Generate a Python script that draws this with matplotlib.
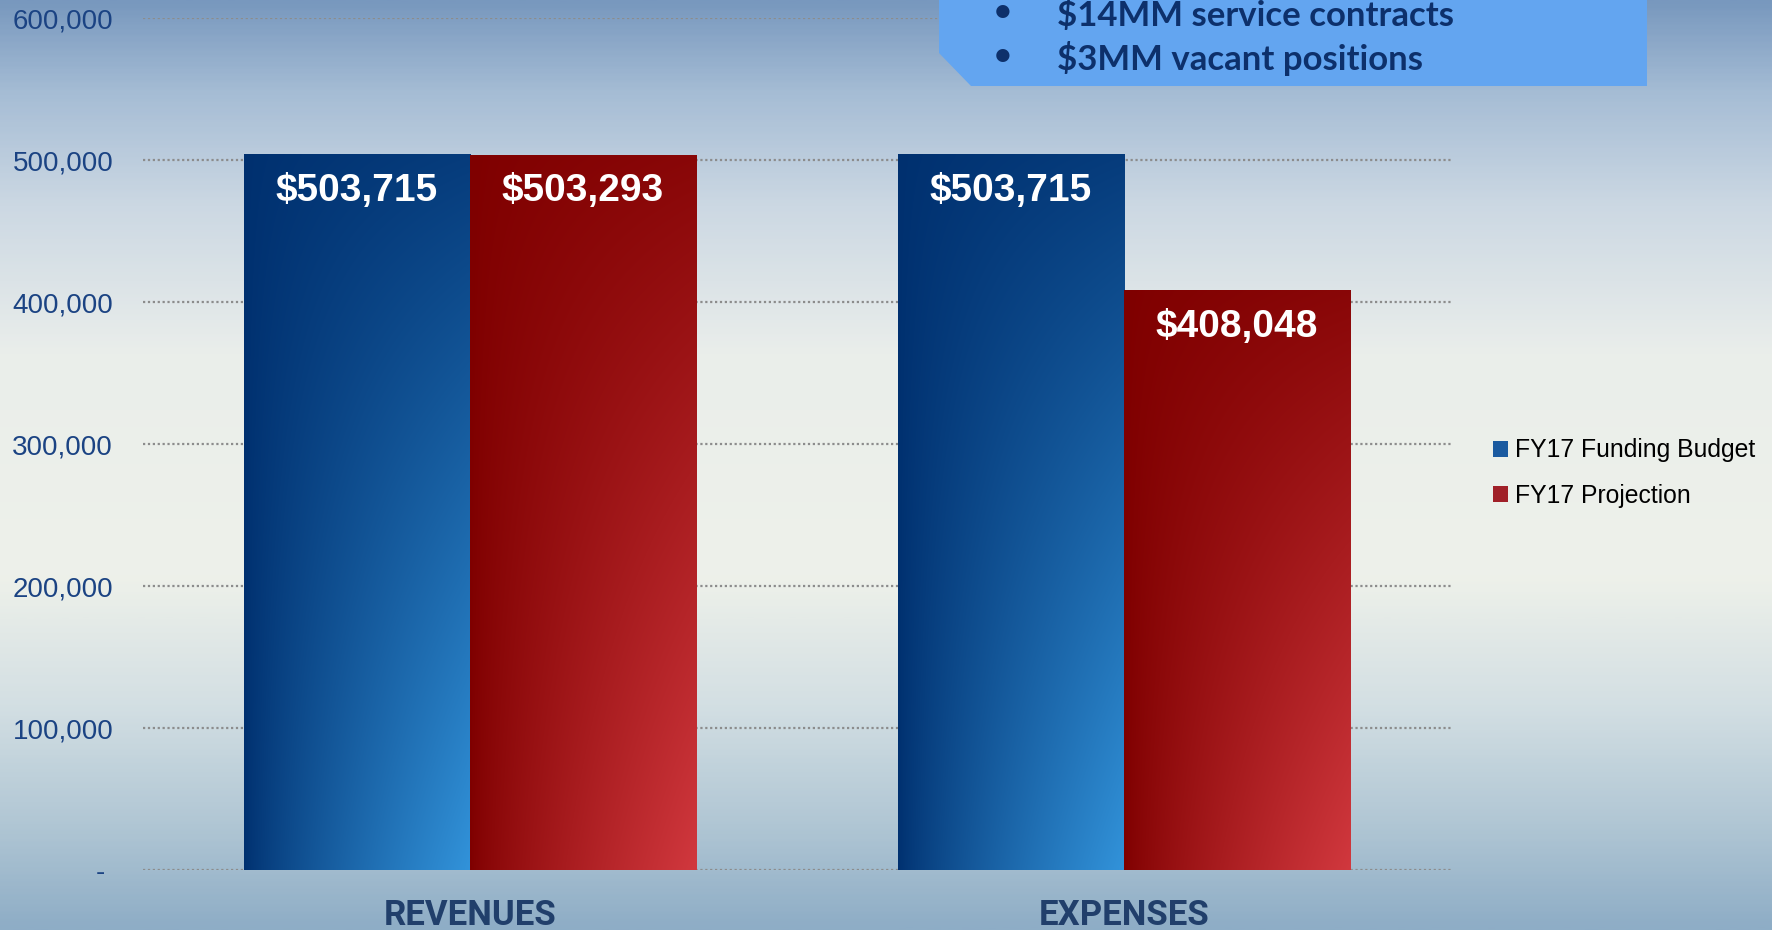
import numpy as np
import matplotlib
matplotlib.use("Agg")
import matplotlib.pyplot as plt
from matplotlib.colors import to_rgb, LinearSegmentedColormap
from matplotlib.patches import Patch, Polygon

# ---- data ----
categories = ["REVENUES", "EXPENSES"]
budget = [503715, 503715]
projection = [503293, 408048]
series_names = ["FY17 Funding Budget", "FY17 Projection"]
yticks = [0, 100000, 200000, 300000, 400000, 500000, 600000]
ytick_labels = ["- ", "100,000", "200,000", "300,000", "400,000", "500,000", "600,000"]
callout_lines = ["$14MM service contracts", "$3MM vacant positions"]

W, H = 1772, 930
fig = plt.figure(figsize=(W / 100, H / 100), dpi=100)

# background: vertical gradient
bg = fig.add_axes([0, 0, 1, 1], zorder=-5)
bg_cmap = LinearSegmentedColormap.from_list("bg", [
    (0.00, "#7898be"), (0.10, "#a6bdd5"), (0.22, "#ccd8e3"), (0.38, "#eaeeeb"),
    (0.62, "#eef1ea"), (0.76, "#d3dfe3"), (0.89, "#b0c6d4"), (1.00, "#8eadc6")])
bg.imshow(np.linspace(0, 1, 400)[:, None], aspect="auto", cmap=bg_cmap,
          extent=(0, 1, 0, 1), origin="upper")
bg.axis("off")

ax = fig.add_axes([143 / W, 1 - 870 / H, 1308 / W, 852 / H])
ax.patch.set_alpha(0)

x = np.arange(len(categories))
bw = 0.3456
b1 = ax.bar(x - bw / 2, budget, bw, facecolor="none", edgecolor="none", zorder=3)
b2 = ax.bar(x + bw / 2, projection, bw, facecolor="none", edgecolor="none", zorder=3)


def grad(dark, light, n=200):
    xx = np.linspace(0, 1, n)[None, :]
    yy = np.linspace(0, 1, n)[:, None]
    t = np.clip(xx ** 0.8 * (0.12 + 0.88 * yy), 0, 1)[..., None]
    return np.array(to_rgb(dark)) * (1 - t) + np.array(to_rgb(light)) * t


for bars, dark, light in [(b1, "#00306f", "#3293da"), (b2, "#7f0000", "#d1383e")]:
    img = grad(dark, light)
    for p in bars:
        x0, w, h = p.get_x(), p.get_width(), p.get_height()
        ax.imshow(img, extent=(x0, x0 + w, 0, h), origin="upper", aspect="auto",
                  zorder=3, interpolation="bilinear")
        ax.annotate(f"${h:,.0f}", (x0 + w / 2, h), xytext=(0, -36 * 0.72),
                    textcoords="offset points", ha="center", va="center",
                    color="white", fontsize=28, fontweight="bold",
                    family="Liberation Sans", zorder=5)

ax.set_xlim(-0.5, 1.5)
ax.set_ylim(0, 600000)
ax.set_yticks(yticks)
ax.set_yticklabels(ytick_labels, fontsize=20, color="#1b4383", family="Liberation Sans")
ax.set_xticks(x)
ax.set_xticklabels(categories, fontsize=25, fontweight="bold", color="#213f6b",
                   family=["Roboto", "DejaVu Sans"])
ax.tick_params(axis="y", length=0, pad=21.5)
ax.tick_params(axis="x", length=0, pad=21)
for s in ax.spines.values():
    s.set_visible(False)
ax.grid(axis="y", linestyle=(0, (1, 1.2)), color="#8c8c8c", linewidth=1.6, zorder=1)
ax.set_axisbelow(True)

handles = [Patch(facecolor="#1a5aa0"), Patch(facecolor="#a02028")]
fig.legend(handles, series_names, loc="center left", bbox_to_anchor=(1493 / W, 1 - 473 / H),
           frameon=False, handlelength=0.62, handleheight=0.62,
           handletextpad=0.25, labelspacing=0.87, borderpad=0, borderaxespad=0,
           prop={"family": "Liberation Sans", "size": 17.8})

# callout box at top
pts = [(939, -10), (1647, -10), (1647, 86), (971, 86), (939, 53)]
fig.add_artist(Polygon([(px / W, 1 - py / H) for px, py in pts], closed=True,
                       transform=fig.transFigure, facecolor="#63a5f0",
                       edgecolor="none", zorder=6))
for i, line in enumerate(callout_lines):
    yc = 1 - (12 + 44 * i) / H
    fig.text(1003 / W, yc, "•", ha="center", va="center", fontsize=22,
             color="#0d306b", family="Lato", fontweight="bold", zorder=7)
    fig.text(1057 / W, yc, line, ha="left", va="center_baseline", fontsize=25,
             color="#0d306b", family="Lato", fontweight="bold", zorder=7)

fig.savefig("out.png", dpi=100)
